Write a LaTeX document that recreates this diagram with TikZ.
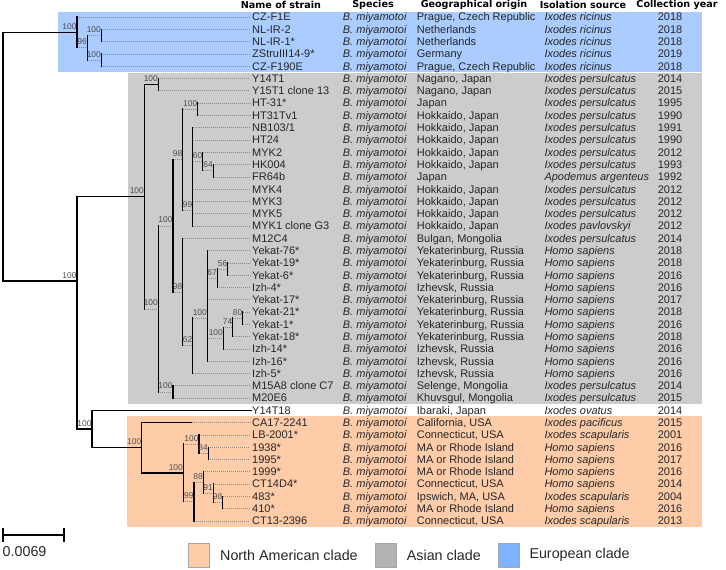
\documentclass[tikz,border=0pt]{standalone}
\usepackage{fontspec}
\setmainfont{Liberation Sans}
\newfontfamily\headfont{DejaVu Sans}
\usepackage{xcolor}
\usepackage{tikz}
\definecolor{euroblue}{HTML}{AACCFF}
\definecolor{asiagray}{HTML}{CCCCCC}
\definecolor{naorange}{HTML}{FFCCAA}
\definecolor{boxgray}{HTML}{B3B3B3}
\definecolor{boxblue}{HTML}{80B3FF}

\begin{document}
\begin{tikzpicture}[x=1pt,y=-1pt,
  strain/.style={anchor=west, inner sep=0pt, text height=7.9pt, text depth=0pt, font=\fontsize{11}{12}\selectfont, text=black!85},
  speccell/.style={strain, font=\fontsize{11}{12}\selectfont\itshape},
  yearcell/.style={strain, anchor=center},
  colhead/.style={anchor=center, inner sep=0pt, font=\headfont\bfseries\fontsize{9.6}{10}\selectfont},
  support/.style={anchor=south east, inner sep=0pt, text height=6pt, text depth=0pt, xshift=-0.3pt, yshift=2.7pt, font=\fontsize{8.4}{9}\selectfont, text=black!70},
  solidbr/.style={line width=1.4pt, line cap=rect},
  zerobr/.style={draw=black!45, line width=0.6pt, dash pattern=on 0.6pt off 1.4pt},
  legtext/.style={anchor=west, inner sep=0pt, font=\fontsize{14.3}{16}\selectfont, text=black!85},
  legbox/.style={draw=black!35, line width=0.8pt}]
\useasboundingbox (0,0) rectangle (726,570);

% clade backgrounds
\fill[euroblue] (58,11.5) rectangle (702,72.3);
\fill[asiagray] (128,73.4) rectangle (702,404.3);
\fill[naorange] (127,416.4) rectangle (702,527.3);

% headers
\node[colhead] (h1) at (281,5) {Name of strain};
\node[colhead] (h2) at (373,5) {Species};
\node[colhead] (h3) at (474,5) {Geographical origin};
\node[colhead] (h4) at (583,5) {Isolation source};
\node[colhead] (h5) at (677,5) {Collection year};

% strain names
\node[strain] (n0) at (252,17.0) {CZ-F1E};
\node[strain] (n1) at (252,29.3) {NL-IR-2};
\node[strain] (n2) at (252,41.6) {NL-IR-1*};
\node[strain] (n3) at (252,53.9) {ZStruIII14-9*};
\node[strain] (n4) at (252,66.2) {CZ-F190E};
\node[strain] (n5) at (252,78.5) {Y14T1};
\node[strain] (n6) at (252,90.7) {Y15T1 clone 13};
\node[strain] (n7) at (252,103.0) {HT-31*};
\node[strain] (n8) at (252,115.3) {HT31Tv1};
\node[strain] (n9) at (252,127.6) {NB103/1};
\node[strain] (n10) at (252,139.9) {HT24};
\node[strain] (n11) at (252,152.2) {MYK2};
\node[strain] (n12) at (252,164.5) {HK004};
\node[strain] (n13) at (252,176.8) {FR64b};
\node[strain] (n14) at (252,189.1) {MYK4};
\node[strain] (n15) at (252,201.4) {MYK3};
\node[strain] (n16) at (252,213.6) {MYK5};
\node[strain] (n17) at (252,225.9) {MYK1 clone G3};
\node[strain] (n18) at (252,238.2) {M12C4};
\node[strain] (n19) at (252,250.5) {Yekat-76*};
\node[strain] (n20) at (252,262.8) {Yekat-19*};
\node[strain] (n21) at (252,275.1) {Yekat-6*};
\node[strain] (n22) at (252,287.4) {Izh-4*};
\node[strain] (n23) at (252,299.7) {Yekat-17*};
\node[strain] (n24) at (252,312.0) {Yekat-21*};
\node[strain] (n25) at (252,324.3) {Yekat-1*};
\node[strain] (n26) at (252,336.5) {Yekat-18*};
\node[strain] (n27) at (252,348.8) {Izh-14*};
\node[strain] (n28) at (252,361.1) {Izh-16*};
\node[strain] (n29) at (252,373.4) {Izh-5*};
\node[strain] (n30) at (252,385.7) {M15A8 clone C7};
\node[strain] (n31) at (252,398.0) {M20E6};
\node[strain] (n32) at (252,410.3) {Y14T18};
\node[strain] (n33) at (252,422.6) {CA17-2241};
\node[strain] (n34) at (252,434.9) {LB-2001*};
\node[strain] (n35) at (252,447.2) {1938*};
\node[strain] (n36) at (252,459.4) {1995*};
\node[strain] (n37) at (252,471.7) {1999*};
\node[strain] (n38) at (252,484.0) {CT14D4*};
\node[strain] (n39) at (252,496.3) {483*};
\node[strain] (n40) at (252,508.6) {410*};
\node[strain] (n41) at (252,520.9) {CT13-2396};

% species
\node[speccell] (s0) at (342.7,17.0) {B. miyamotoi};
\node[speccell] (s1) at (342.7,29.3) {B. miyamotoi};
\node[speccell] (s2) at (342.7,41.6) {B. miyamotoi};
\node[speccell] (s3) at (342.7,53.9) {B. miyamotoi};
\node[speccell] (s4) at (342.7,66.2) {B. miyamotoi};
\node[speccell] (s5) at (342.7,78.5) {B. miyamotoi};
\node[speccell] (s6) at (342.7,90.7) {B. miyamotoi};
\node[speccell] (s7) at (342.7,103.0) {B. miyamotoi};
\node[speccell] (s8) at (342.7,115.3) {B. miyamotoi};
\node[speccell] (s9) at (342.7,127.6) {B. miyamotoi};
\node[speccell] (s10) at (342.7,139.9) {B. miyamotoi};
\node[speccell] (s11) at (342.7,152.2) {B. miyamotoi};
\node[speccell] (s12) at (342.7,164.5) {B. miyamotoi};
\node[speccell] (s13) at (342.7,176.8) {B. miyamotoi};
\node[speccell] (s14) at (342.7,189.1) {B. miyamotoi};
\node[speccell] (s15) at (342.7,201.4) {B. miyamotoi};
\node[speccell] (s16) at (342.7,213.6) {B. miyamotoi};
\node[speccell] (s17) at (342.7,225.9) {B. miyamotoi};
\node[speccell] (s18) at (342.7,238.2) {B. miyamotoi};
\node[speccell] (s19) at (342.7,250.5) {B. miyamotoi};
\node[speccell] (s20) at (342.7,262.8) {B. miyamotoi};
\node[speccell] (s21) at (342.7,275.1) {B. miyamotoi};
\node[speccell] (s22) at (342.7,287.4) {B. miyamotoi};
\node[speccell] (s23) at (342.7,299.7) {B. miyamotoi};
\node[speccell] (s24) at (342.7,312.0) {B. miyamotoi};
\node[speccell] (s25) at (342.7,324.3) {B. miyamotoi};
\node[speccell] (s26) at (342.7,336.5) {B. miyamotoi};
\node[speccell] (s27) at (342.7,348.8) {B. miyamotoi};
\node[speccell] (s28) at (342.7,361.1) {B. miyamotoi};
\node[speccell] (s29) at (342.7,373.4) {B. miyamotoi};
\node[speccell] (s30) at (342.7,385.7) {B. miyamotoi};
\node[speccell] (s31) at (342.7,398.0) {B. miyamotoi};
\node[speccell] (s32) at (342.7,410.3) {B. miyamotoi};
\node[speccell] (s33) at (342.7,422.6) {B. miyamotoi};
\node[speccell] (s34) at (342.7,434.9) {B. miyamotoi};
\node[speccell] (s35) at (342.7,447.2) {B. miyamotoi};
\node[speccell] (s36) at (342.7,459.4) {B. miyamotoi};
\node[speccell] (s37) at (342.7,471.7) {B. miyamotoi};
\node[speccell] (s38) at (342.7,484.0) {B. miyamotoi};
\node[speccell] (s39) at (342.7,496.3) {B. miyamotoi};
\node[speccell] (s40) at (342.7,508.6) {B. miyamotoi};
\node[speccell] (s41) at (342.7,520.9) {B. miyamotoi};

% geographical origin
\node[strain] (g0) at (416.7,17.0) {Prague, Czech Republic};
\node[strain] (g1) at (416.7,29.3) {Netherlands};
\node[strain] (g2) at (416.7,41.6) {Netherlands};
\node[strain] (g3) at (416.7,53.9) {Germany};
\node[strain] (g4) at (416.7,66.2) {Prague, Czech Republic};
\node[strain] (g5) at (416.7,78.5) {Nagano, Japan};
\node[strain] (g6) at (416.7,90.7) {Nagano, Japan};
\node[strain] (g7) at (416.7,103.0) {Japan};
\node[strain] (g8) at (416.7,115.3) {Hokkaido, Japan};
\node[strain] (g9) at (416.7,127.6) {Hokkaido, Japan};
\node[strain] (g10) at (416.7,139.9) {Hokkaido, Japan};
\node[strain] (g11) at (416.7,152.2) {Hokkaido, Japan};
\node[strain] (g12) at (416.7,164.5) {Hokkaido, Japan};
\node[strain] (g13) at (416.7,176.8) {Japan};
\node[strain] (g14) at (416.7,189.1) {Hokkaido, Japan};
\node[strain] (g15) at (416.7,201.4) {Hokkaido, Japan};
\node[strain] (g16) at (416.7,213.6) {Hokkaido, Japan};
\node[strain] (g17) at (416.7,225.9) {Hokkaido, Japan};
\node[strain] (g18) at (416.7,238.2) {Bulgan, Mongolia};
\node[strain] (g19) at (416.7,250.5) {Yekaterinburg, Russia};
\node[strain] (g20) at (416.7,262.8) {Yekaterinburg, Russia};
\node[strain] (g21) at (416.7,275.1) {Yekaterinburg, Russia};
\node[strain] (g22) at (416.7,287.4) {Izhevsk, Russia};
\node[strain] (g23) at (416.7,299.7) {Yekaterinburg, Russia};
\node[strain] (g24) at (416.7,312.0) {Yekaterinburg, Russia};
\node[strain] (g25) at (416.7,324.3) {Yekaterinburg, Russia};
\node[strain] (g26) at (416.7,336.5) {Yekaterinburg, Russia};
\node[strain] (g27) at (416.7,348.8) {Izhevsk, Russia};
\node[strain] (g28) at (416.7,361.1) {Izhevsk, Russia};
\node[strain] (g29) at (416.7,373.4) {Izhevsk, Russia};
\node[strain] (g30) at (416.7,385.7) {Selenge, Mongolia};
\node[strain] (g31) at (416.7,398.0) {Khuvsgul, Mongolia};
\node[strain] (g32) at (416.7,410.3) {Ibaraki, Japan};
\node[strain] (g33) at (416.7,422.6) {California, USA};
\node[strain] (g34) at (416.7,434.9) {Connecticut, USA};
\node[strain] (g35) at (416.7,447.2) {MA or Rhode Island};
\node[strain] (g36) at (416.7,459.4) {MA or Rhode Island};
\node[strain] (g37) at (416.7,471.7) {MA or Rhode Island};
\node[strain] (g38) at (416.7,484.0) {Connecticut, USA};
\node[strain] (g39) at (416.7,496.3) {Ipswich, MA, USA};
\node[strain] (g40) at (416.7,508.6) {MA or Rhode Island};
\node[strain] (g41) at (416.7,520.9) {Connecticut, USA};

% isolation source
\node[speccell] (i0) at (544.3,17.0) {Ixodes ricinus};
\node[speccell] (i1) at (544.3,29.3) {Ixodes ricinus};
\node[speccell] (i2) at (544.3,41.6) {Ixodes ricinus};
\node[speccell] (i3) at (544.3,53.9) {Ixodes ricinus};
\node[speccell] (i4) at (544.3,66.2) {Ixodes ricinus};
\node[speccell] (i5) at (544.3,78.5) {Ixodes persulcatus};
\node[speccell] (i6) at (544.3,90.7) {Ixodes persulcatus};
\node[speccell] (i7) at (544.3,103.0) {Ixodes persulcatus};
\node[speccell] (i8) at (544.3,115.3) {Ixodes persulcatus};
\node[speccell] (i9) at (544.3,127.6) {Ixodes persulcatus};
\node[speccell] (i10) at (544.3,139.9) {Ixodes persulcatus};
\node[speccell] (i11) at (544.3,152.2) {Ixodes persulcatus};
\node[speccell] (i12) at (544.3,164.5) {Ixodes persulcatus};
\node[speccell] (i13) at (544.3,176.8) {Apodemus argenteus};
\node[speccell] (i14) at (544.3,189.1) {Ixodes persulcatus};
\node[speccell] (i15) at (544.3,201.4) {Ixodes persulcatus};
\node[speccell] (i16) at (544.3,213.6) {Ixodes persulcatus};
\node[speccell] (i17) at (544.3,225.9) {Ixodes pavlovskyi};
\node[speccell] (i18) at (544.3,238.2) {Ixodes persulcatus};
\node[speccell] (i19) at (544.3,250.5) {Homo sapiens};
\node[speccell] (i20) at (544.3,262.8) {Homo sapiens};
\node[speccell] (i21) at (544.3,275.1) {Homo sapiens};
\node[speccell] (i22) at (544.3,287.4) {Homo sapiens};
\node[speccell] (i23) at (544.3,299.7) {Homo sapiens};
\node[speccell] (i24) at (544.3,312.0) {Homo sapiens};
\node[speccell] (i25) at (544.3,324.3) {Homo sapiens};
\node[speccell] (i26) at (544.3,336.5) {Homo sapiens};
\node[speccell] (i27) at (544.3,348.8) {Homo sapiens};
\node[speccell] (i28) at (544.3,361.1) {Homo sapiens};
\node[speccell] (i29) at (544.3,373.4) {Homo sapiens};
\node[speccell] (i30) at (544.3,385.7) {Ixodes persulcatus};
\node[speccell] (i31) at (544.3,398.0) {Ixodes persulcatus};
\node[speccell] (i32) at (544.3,410.3) {Ixodes ovatus};
\node[speccell] (i33) at (544.3,422.6) {Ixodes pacificus};
\node[speccell] (i34) at (544.3,434.9) {Ixodes scapularis};
\node[speccell] (i35) at (544.3,447.2) {Homo sapiens};
\node[speccell] (i36) at (544.3,459.4) {Homo sapiens};
\node[speccell] (i37) at (544.3,471.7) {Homo sapiens};
\node[speccell] (i38) at (544.3,484.0) {Homo sapiens};
\node[speccell] (i39) at (544.3,496.3) {Ixodes scapularis};
\node[speccell] (i40) at (544.3,508.6) {Homo sapiens};
\node[speccell] (i41) at (544.3,520.9) {Ixodes scapularis};

% collection year
\node[yearcell] (t0) at (670,17.0) {2018};
\node[yearcell] (t1) at (670,29.3) {2018};
\node[yearcell] (t2) at (670,41.6) {2018};
\node[yearcell] (t3) at (670,53.9) {2019};
\node[yearcell] (t4) at (670,66.2) {2018};
\node[yearcell] (t5) at (670,78.5) {2014};
\node[yearcell] (t6) at (670,90.7) {2015};
\node[yearcell] (t7) at (670,103.0) {1995};
\node[yearcell] (t8) at (670,115.3) {1990};
\node[yearcell] (t9) at (670,127.6) {1991};
\node[yearcell] (t10) at (670,139.9) {1990};
\node[yearcell] (t11) at (670,152.2) {2012};
\node[yearcell] (t12) at (670,164.5) {1993};
\node[yearcell] (t13) at (670,176.8) {1992};
\node[yearcell] (t14) at (670,189.1) {2012};
\node[yearcell] (t15) at (670,201.4) {2012};
\node[yearcell] (t16) at (670,213.6) {2012};
\node[yearcell] (t17) at (670,225.9) {2012};
\node[yearcell] (t18) at (670,238.2) {2014};
\node[yearcell] (t19) at (670,250.5) {2018};
\node[yearcell] (t20) at (670,262.8) {2018};
\node[yearcell] (t21) at (670,275.1) {2016};
\node[yearcell] (t22) at (670,287.4) {2016};
\node[yearcell] (t23) at (670,299.7) {2017};
\node[yearcell] (t24) at (670,312.0) {2018};
\node[yearcell] (t25) at (670,324.3) {2016};
\node[yearcell] (t26) at (670,336.5) {2018};
\node[yearcell] (t27) at (670,348.8) {2016};
\node[yearcell] (t28) at (670,361.1) {2016};
\node[yearcell] (t29) at (670,373.4) {2016};
\node[yearcell] (t30) at (670,385.7) {2014};
\node[yearcell] (t31) at (670,398.0) {2015};
\node[yearcell] (t32) at (670,410.3) {2014};
\node[yearcell] (t33) at (670,422.6) {2015};
\node[yearcell] (t34) at (670,434.9) {2001};
\node[yearcell] (t35) at (670,447.2) {2016};
\node[yearcell] (t36) at (670,459.4) {2017};
\node[yearcell] (t37) at (670,471.7) {2016};
\node[yearcell] (t38) at (670,484.0) {2014};
\node[yearcell] (t39) at (670,496.3) {2004};
\node[yearcell] (t40) at (670,508.6) {2016};
\node[yearcell] (t41) at (670,520.9) {2013};

% tree nodes
\coordinate (root) at (3,0);
\coordinate (eu) at (77,32.4);
\coordinate (eu96) at (87.3,47.75);
\coordinate (nl) at (101.3,35.45);
\coordinate (zs) at (101.3,60.05);
\coordinate (an) at (77,281);
\coordinate (as) at (144.3,196.7);
\coordinate (yy) at (158.3,84.6);
\coordinate (ar) at (158.3,308.8);
\coordinate (jp) at (173,225.8);
\coordinate (hk) at (182.7,159.6);
\coordinate (ht) at (197.7,109.15);
\coordinate (myk) at (192.7,210);
\coordinate (m60) at (202.7,161.4);
\coordinate (m64) at (213.3,170.65);
\coordinate (ru) at (182.7,291.95);
\coordinate (r62) at (192.7,345.7);
\coordinate (ye) at (207.3,318);
\coordinate (r67) at (217.3,278.2);
\coordinate (r56) at (227.7,268.95);
\coordinate (iz) at (223.3,338.05);
\coordinate (r74) at (232.7,327.3);
\coordinate (r80) at (242.7,318.15);
\coordinate (mo) at (173,391.85);
\coordinate (yo) at (92,429);
\coordinate (na) at (141.7,447.75);
\coordinate (ca) at (191.7,422.6);
\coordinate (us) at (183.3,472.9);
\coordinate (lb) at (199,444.1);
\coordinate (u84) at (208.3,453.3);
\coordinate (u99) at (194,501.7);
\coordinate (u88) at (203.3,482.45);
\coordinate (u91) at (213.3,493.2);
\coordinate (u98) at (222.7,502.45);

% zero length branches and tips
\draw[zerobr] (eu |- eu96) -- (eu96);
\draw[zerobr] (eu96 |- nl) -- (nl);
\draw[zerobr] (eu96 |- zs) -- (zs);
\draw[zerobr] (as |- ar) -- (ar);
\draw[zerobr] (ar |- jp) -- (jp);
\draw[zerobr] (ar |- mo) -- (mo);
\draw[zerobr] (jp |- hk) -- (hk);
\draw[zerobr] (jp |- ru) -- (ru);
\draw[zerobr] (hk |- ht) -- (ht);
\draw[zerobr] (hk |- myk) -- (myk);
\draw[zerobr] (myk |- m60) -- (m60);
\draw[zerobr] (m60 |- m64) -- (m64);
\draw[zerobr] (ru |- r62) -- (r62);
\draw[zerobr] (r62 |- ye) -- (ye);
\draw[zerobr] (ye |- r67) -- (r67);
\draw[zerobr] (r67 |- r56) -- (r56);
\draw[zerobr] (ye |- iz) -- (iz);
\draw[zerobr] (iz |- r74) -- (r74);
\draw[zerobr] (r74 |- r80) -- (r80);
\draw[zerobr] (us |- lb) -- (lb);
\draw[zerobr] (lb |- u84) -- (u84);
\draw[zerobr] (us |- u99) -- (u99);
\draw[zerobr] (u99 |- u88) -- (u88);
\draw[zerobr] (u88 |- u91) -- (u91);
\draw[zerobr] (u91 |- u98) -- (u98);
\draw[zerobr] (eu |- n0) -- ([xshift=-2pt]n0.west);
\draw[zerobr] (nl |- n1) -- ([xshift=-2pt]n1.west);
\draw[zerobr] (nl |- n2) -- ([xshift=-2pt]n2.west);
\draw[zerobr] (zs |- n3) -- ([xshift=-2pt]n3.west);
\draw[zerobr] (zs |- n4) -- ([xshift=-2pt]n4.west);
\draw[zerobr] (yy |- n5) -- ([xshift=-2pt]n5.west);
\draw[zerobr] (yy |- n6) -- ([xshift=-2pt]n6.west);
\draw[zerobr] (ht |- n7) -- ([xshift=-2pt]n7.west);
\draw[zerobr] (ht |- n8) -- ([xshift=-2pt]n8.west);
\draw[zerobr] (myk |- n9) -- ([xshift=-2pt]n9.west);
\draw[zerobr] (myk |- n10) -- ([xshift=-2pt]n10.west);
\draw[zerobr] (m60 |- n11) -- ([xshift=-2pt]n11.west);
\draw[zerobr] (m64 |- n12) -- ([xshift=-2pt]n12.west);
\draw[zerobr] (m64 |- n13) -- ([xshift=-2pt]n13.west);
\draw[zerobr] (myk |- n14) -- ([xshift=-2pt]n14.west);
\draw[zerobr] (myk |- n15) -- ([xshift=-2pt]n15.west);
\draw[zerobr] (myk |- n16) -- ([xshift=-2pt]n16.west);
\draw[zerobr] (myk |- n17) -- ([xshift=-2pt]n17.west);
\draw[zerobr] (ru |- n18) -- ([xshift=-2pt]n18.west);
\draw[zerobr] (ye |- n19) -- ([xshift=-2pt]n19.west);
\draw[zerobr] (r56 |- n20) -- ([xshift=-2pt]n20.west);
\draw[zerobr] (r56 |- n21) -- ([xshift=-2pt]n21.west);
\draw[zerobr] (r67 |- n22) -- ([xshift=-2pt]n22.west);
\draw[zerobr] (ye |- n23) -- ([xshift=-2pt]n23.west);
\draw[zerobr] (r80 |- n24) -- ([xshift=-2pt]n24.west);
\draw[zerobr] (r80 |- n25) -- ([xshift=-2pt]n25.west);
\draw[zerobr] (r74 |- n26) -- ([xshift=-2pt]n26.west);
\draw[zerobr] (iz |- n27) -- ([xshift=-2pt]n27.west);
\draw[zerobr] (ye |- n28) -- ([xshift=-2pt]n28.west);
\draw[zerobr] (r62 |- n29) -- ([xshift=-2pt]n29.west);
\draw[zerobr] (mo |- n30) -- ([xshift=-2pt]n30.west);
\draw[zerobr] (mo |- n31) -- ([xshift=-2pt]n31.west);
\draw[zerobr] (ca) -- ([xshift=-2pt]n33.west);
\draw[zerobr] (lb |- n34) -- ([xshift=-2pt]n34.west);
\draw[zerobr] (u84 |- n35) -- ([xshift=-2pt]n35.west);
\draw[zerobr] (u84 |- n36) -- ([xshift=-2pt]n36.west);
\draw[zerobr] (u88 |- n37) -- ([xshift=-2pt]n37.west);
\draw[zerobr] (u91 |- n38) -- ([xshift=-2pt]n38.west);
\draw[zerobr] (u98 |- n39) -- ([xshift=-2pt]n39.west);
\draw[zerobr] (u98 |- n40) -- ([xshift=-2pt]n40.west);
\draw[zerobr] (u99 |- n41) -- ([xshift=-2pt]n41.west);

% solid branches
\draw[solidbr] (eu) -- (root |- eu) -- (root |- an) -- (an);
\draw[solidbr] (an |- as) -- (as);
\draw[solidbr] (as |- yy) -- (yy);
\draw[solidbr] (an |- yo) -- (yo);
\draw[solidbr] (yo |- n32) -- ([xshift=-1pt]n32.west);
\draw[solidbr] (yo |- na) -- (na);
\draw[solidbr] (na |- n33) -- (ca);
\draw[solidbr] (na |- us) -- (us);

% node bars
\draw[solidbr] (eu |- n0) -- (eu |- eu96);
\draw[solidbr] (eu96 |- nl) -- (eu96 |- zs);
\draw[solidbr] (nl |- n1) -- (nl |- n2);
\draw[solidbr] (zs |- n3) -- (zs |- n4);
\draw[solidbr] (an |- as) -- (an |- yo);
\draw[solidbr] (as |- yy) -- (as |- ar);
\draw[solidbr] (yy |- n5) -- (yy |- n6);
\draw[solidbr] (ar |- jp) -- (ar |- mo);
\draw[solidbr] (jp |- hk) -- (jp |- ru);
\draw[solidbr] (hk |- ht) -- (hk |- myk);
\draw[solidbr] (ht |- n7) -- (ht |- n8);
\draw[solidbr] (myk |- n9) -- (myk |- n17);
\draw[solidbr] (m60 |- n11) -- (m60 |- m64);
\draw[solidbr] (m64 |- n12) -- (m64 |- n13);
\draw[solidbr] (ru |- n18) -- (ru |- r62);
\draw[solidbr] (r62 |- ye) -- (r62 |- n29);
\draw[solidbr] (ye |- n19) -- (ye |- n28);
\draw[solidbr] (r67 |- r56) -- (r67 |- n22);
\draw[solidbr] (r56 |- n20) -- (r56 |- n21);
\draw[solidbr] (iz |- r74) -- (iz |- n27);
\draw[solidbr] (r74 |- r80) -- (r74 |- n26);
\draw[solidbr] (r80 |- n24) -- (r80 |- n25);
\draw[solidbr] (mo |- n30) -- (mo |- n31);
\draw[solidbr] (yo |- n32) -- (yo |- na);
\draw[solidbr] (na |- n33) -- (na |- us);
\draw[solidbr] (us |- lb) -- (us |- u99);
\draw[solidbr] (lb |- n34) -- (lb |- u84);
\draw[solidbr] (u84 |- n35) -- (u84 |- n36);
\draw[solidbr] (u99 |- u88) -- (u99 |- n41);
\draw[solidbr] (u88 |- n37) -- (u88 |- u91);
\draw[solidbr] (u91 |- n38) -- (u91 |- u98);
\draw[solidbr] (u98 |- n39) -- (u98 |- n40);

% bootstrap support
\node[support] (b1) at (eu) {100};
\node[support] (b2) at (eu96) {96};
\node[support] (b3) at (nl) {100};
\node[support] (b4) at (zs) {100};
\node[support] (b5) at (an) {100};
\node[support] (b6) at (as) {100};
\node[support] (b7) at (yy) {100};
\node[support] (b8) at (ar) {100};
\node[support] (b9) at (jp) {100};
\node[support] (b10) at (hk) {98};
\node[support] (b11) at (ht) {100};
\node[support] (b12) at (myk) {99};
\node[support] (b13) at (m60) {60};
\node[support] (b14) at (m64) {64};
\node[support] (b15) at (ru) {98};
\node[support] (b16) at (r62) {62};
\node[support] (b17) at (ye) {100};
\node[support] (b18) at (r67) {67};
\node[support] (b19) at (r56) {56};
\node[support] (b20) at (iz) {100};
\node[support] (b21) at (r74) {74};
\node[support] (b22) at (r80) {80};
\node[support] (b23) at (mo) {100};
\node[support] (b24) at (yo) {100};
\node[support] (b25) at (na) {100};
\node[support] (b26) at (us) {100};
\node[support] (b27) at (lb) {100};
\node[support] (b28) at (u84) {84};
\node[support] (b29) at (u99) {99};
\node[support] (b30) at (u88) {88};
\node[support] (b31) at (u91) {91};
\node[support] (b32) at (u98) {98};

% scale bar
\draw[line width=1.2pt] (3,535) -- (64,535);
\draw[line width=1.2pt] (3,528) -- (3,542);
\draw[line width=1.2pt] (64,528) -- (64,542);
\node[legtext] (scl) at (2.5,552) {0.0069};

% legend
\draw[legbox, fill=naorange] (188,543) rectangle (209,567);
\node[legtext] (l1) at (220,555) {North American clade};
\draw[legbox, fill=boxgray] (375,543) rectangle (396,567);
\node[legtext] (l2) at (406.7,555) {Asian clade};
\draw[legbox, fill=boxblue] (498.7,543) rectangle (519.3,567);
\node[legtext] (l3) at (529.3,555) {European clade};
\end{tikzpicture}
\end{document}
